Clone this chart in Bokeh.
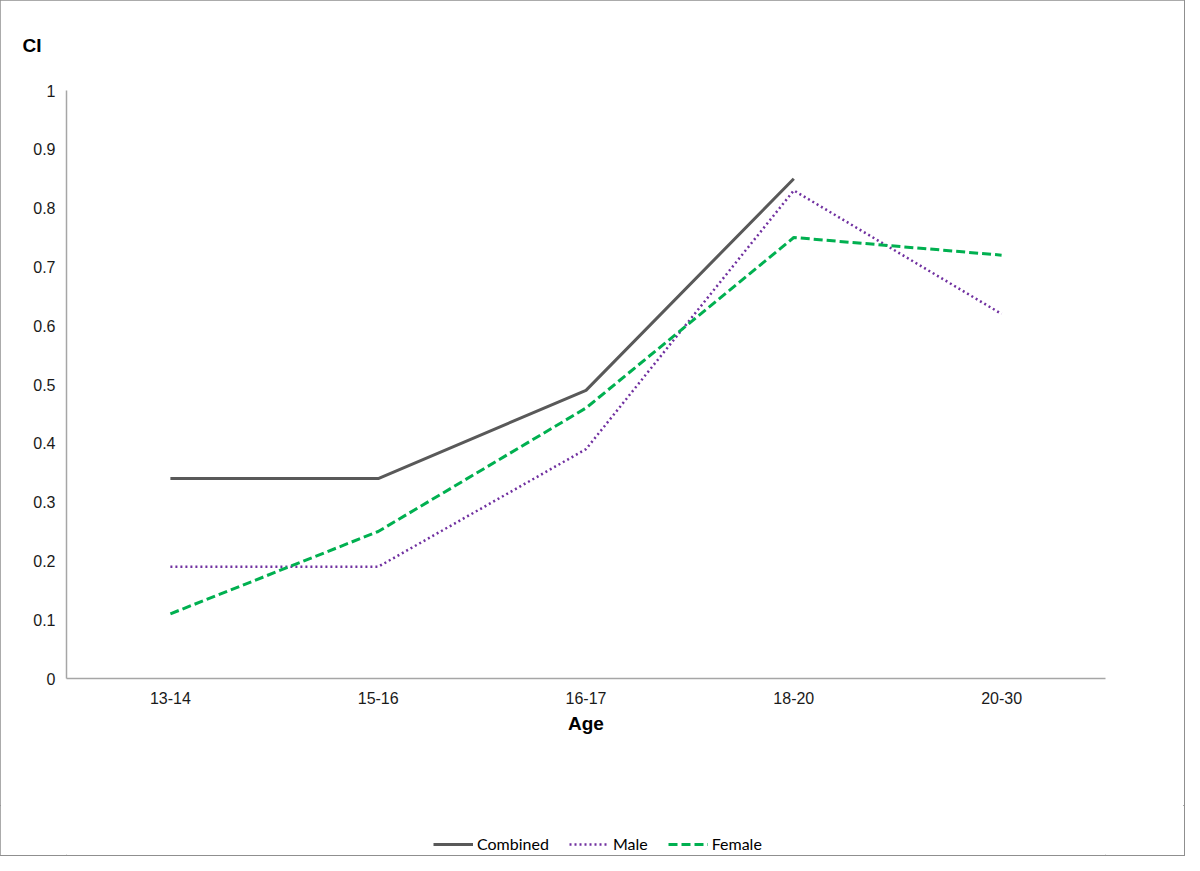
from bokeh.plotting import figure
from bokeh.layouts import column
from bokeh.models import FactorRange, Range1d, FixedTicker, Legend, LegendItem
from bokeh.embed import file_html
from bokeh.resources import INLINE

# ---- data ----
ages = ["13-14", "15-16", "16-17", "18-20", "20-30"]
combined_ages = ["13-14", "15-16", "16-17", "18-20"]
combined = [0.34, 0.34, 0.49, 0.85]
male = [0.19, 0.19, 0.39, 0.83, 0.62]
female = [0.11, 0.25, 0.46, 0.75, 0.72]
y_ticks = [0, 0.1, 0.2, 0.3, 0.4, 0.5, 0.6, 0.7, 0.8, 0.9, 1]
y_tick_labels = ["0", "0.1", "0.2", "0.3", "0.4", "0.5", "0.6", "0.7", "0.8", "0.9", "1"]
x_title = "Age"
y_title = "CI"
series_names = ["Combined", "Male", "Female"]

FONT = "Liberation Sans"
STYLES = [
    dict(line_color="#595959", line_width=3),
    dict(line_color="#7030a0", line_width=2.5, line_dash="2 3"),
    dict(line_color="#00b050", line_width=3, line_dash="9 4"),
]
SERIES = [(combined_ages, combined), (ages, male), (ages, female)]

p = figure(
    width=1184, height=805,
    x_range=FactorRange(factors=ages, range_padding=0),
    y_range=Range1d(0, 1),
    output_backend="svg", toolbar_location=None,
    min_border_left=66, min_border_right=79,
    min_border_top=90, min_border_bottom=127,
)
p.outline_line_color = None
p.xgrid.grid_line_color = None
p.ygrid.grid_line_color = None

p.title.text = y_title
p.title.align = "left"
p.title.vertical_align = "top"
p.title.offset = -44
p.title.standoff = 66
p.title.text_font = FONT
p.title.text_font_size = "19px"
p.title.text_font_style = "bold"
p.title.text_color = "#000000"

for ax in (p.xaxis[0], p.yaxis[0]):
    ax.axis_line_color = "#a6a6a6"
    ax.axis_line_width = 1.5
    ax.major_tick_line_color = None
    ax.minor_tick_line_color = None
    ax.major_label_text_font = FONT
    ax.major_label_text_font_size = "16px"
    ax.major_label_text_color = "#1a1a1a"

p.yaxis[0].ticker = FixedTicker(ticks=y_ticks)
p.yaxis[0].major_label_overrides = {t: l for t, l in zip(y_ticks, y_tick_labels)}
p.yaxis[0].major_label_standoff = 5

p.xaxis[0].major_label_standoff = 7
p.xaxis[0].axis_label = x_title
p.xaxis[0].axis_label_text_font = FONT
p.xaxis[0].axis_label_text_font_size = "19px"
p.xaxis[0].axis_label_text_font_style = "bold"
p.xaxis[0].axis_label_text_color = "#000000"
p.xaxis[0].axis_label_standoff = 6

for (xs, ys), s in zip(SERIES, STYLES):
    p.line(xs, ys, **s)

# legend strip: same series drawn out of view, used only as legend sources
lg = figure(width=1184, height=50, output_backend="svg", toolbar_location=None,
            x_range=FactorRange(factors=ages, range_padding=0), y_range=Range1d(5, 6),
            min_border=0, outline_line_color=None)
lg.axis.visible = False
lg.grid.visible = False
srcs = [lg.line(xs, ys, **s) for (xs, ys), s in zip(SERIES, STYLES)]
legend = Legend(
    items=[LegendItem(label=n, renderers=[r]) for n, r in zip(series_names, srcs)],
    orientation="horizontal", location=(367, 2),
    border_line_color=None, background_fill_alpha=0,
    padding=0, margin=0, spacing=20, glyph_width=40, glyph_height=16, label_standoff=4,
    label_text_font="Lato", label_text_font_size="16px", label_text_color="#000000",
)
lg.add_layout(legend, "center")

layout = column(p, lg, spacing=0)
layout.styles = {"outline": "2px solid #8f8f8f", "outline-offset": "-1px"}

open("out.html", "w").write(file_html(layout, INLINE))
